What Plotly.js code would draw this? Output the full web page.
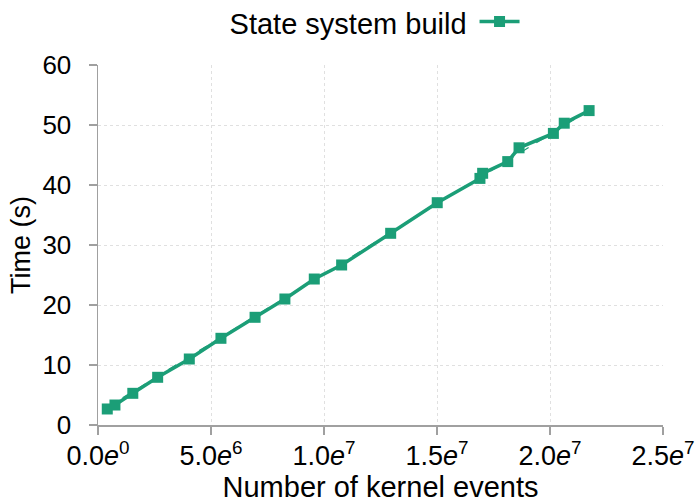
<!DOCTYPE html>
<html>
<head>
<meta charset="utf-8">
<script src="https://cdn.plot.ly/plotly-3.0.1.min.js"></script>
<style>html,body{margin:0;padding:0;background:#fff;}#chart{width:696px;height:504px;}</style>
</head>
<body>
<div id="chart"></div>
<script>
const seriesName = 'State system build';
const kernelEvents = [0.41e6, 0.75e6, 1.54e6, 2.64e6, 4.04e6, 5.44e6, 6.95e6, 8.27e6, 9.57e6, 10.78e6,
  12.95e6, 15.01e6, 16.90e6, 17.02e6, 18.13e6, 18.63e6, 20.15e6, 20.63e6, 21.73e6];
const timeSec = [2.67, 3.33, 5.28, 7.95, 11.0, 14.45, 17.95, 21.0, 24.33, 26.67,
  31.95, 37.05, 41.1, 41.95, 43.9, 46.2, 48.6, 50.3, 52.4];
const fitX = [0.41e6, 21.73e6];
const fitY = [2.95, 52.45];
const xTickVals = [0, 5e6, 1e7, 1.5e7, 2e7, 2.5e7];
const xTickText = ['0.0<i>e</i><sup>0</sup>', '5.0<i>e</i><sup>6</sup>', '1.0<i>e</i><sup>7</sup>',
  '1.5<i>e</i><sup>7</sup>', '2.0<i>e</i><sup>7</sup>', '2.5<i>e</i><sup>7</sup>'];
const yTickVals = [0, 10, 20, 30, 40, 50, 60];

const green = '#1b9e77';
const axisGray = '#a0a0a0';
const font = 'Liberation Sans, Arial, sans-serif';

const traces = [
  {
    x: fitX, y: fitY, type: 'scatter', mode: 'lines', showlegend: false, hoverinfo: 'skip',
    line: {color: green, width: 1.2, dash: 'dash'}
  },
  {
    x: kernelEvents, y: timeSec, type: 'scatter', mode: 'lines+markers', name: '',
    line: {color: green, width: 3.5},
    marker: {symbol: 'square', size: 11, color: green}
  }
];

const layout = {
  width: 696, height: 504,
  margin: {l: 98, r: 33, t: 65, b: 79},
  paper_bgcolor: '#fff', plot_bgcolor: '#fff',
  font: {family: font, color: '#000', size: 26},
  showlegend: true,
  legend: {
    xref: 'container', yref: 'container',
    x: 0.327, y: 0.957, xanchor: 'left', yanchor: 'middle',
    orientation: 'h',
    title: {text: seriesName, side: 'left', font: {size: 29, family: font}},
    font: {size: 29, family: font}, bgcolor: 'rgba(0,0,0,0)', borderwidth: 0,
    itemwidth: 40
  },
  xaxis: {
    range: [0, 2.5e7], tickmode: 'array', tickvals: xTickVals, ticktext: xTickText,
    showline: true, linecolor: axisGray, linewidth: 1.5, mirror: false,
    ticks: 'outside', ticklen: 8, tickwidth: 1.5, tickcolor: axisGray,
    ticklabelstandoff: -2,
    showgrid: true, gridcolor: '#e0e0e0', gridwidth: 1, griddash: 'dot',
    zeroline: false,
    tickfont: {size: 27, family: font},
    title: {text: 'Number of kernel events', font: {size: 29, family: font}, standoff: 1}
  },
  yaxis: {
    range: [0, 60], tickmode: 'array', tickvals: yTickVals,
    showline: true, linecolor: axisGray, linewidth: 1.5, mirror: false,
    ticks: 'outside', ticklen: 8, tickwidth: 1.5, tickcolor: axisGray,
    ticklabelstandoff: 12,
    showgrid: true, gridcolor: '#e0e0e0', gridwidth: 1, griddash: 'dot',
    zeroline: false,
    tickfont: {size: 26, family: font},
    title: {text: 'Time (s)', font: {size: 27, family: font}, standoff: 4}
  }
};

Plotly.newPlot('chart', traces, layout, {displayModeBar: false, staticPlot: true});
</script>
</body>
</html>
